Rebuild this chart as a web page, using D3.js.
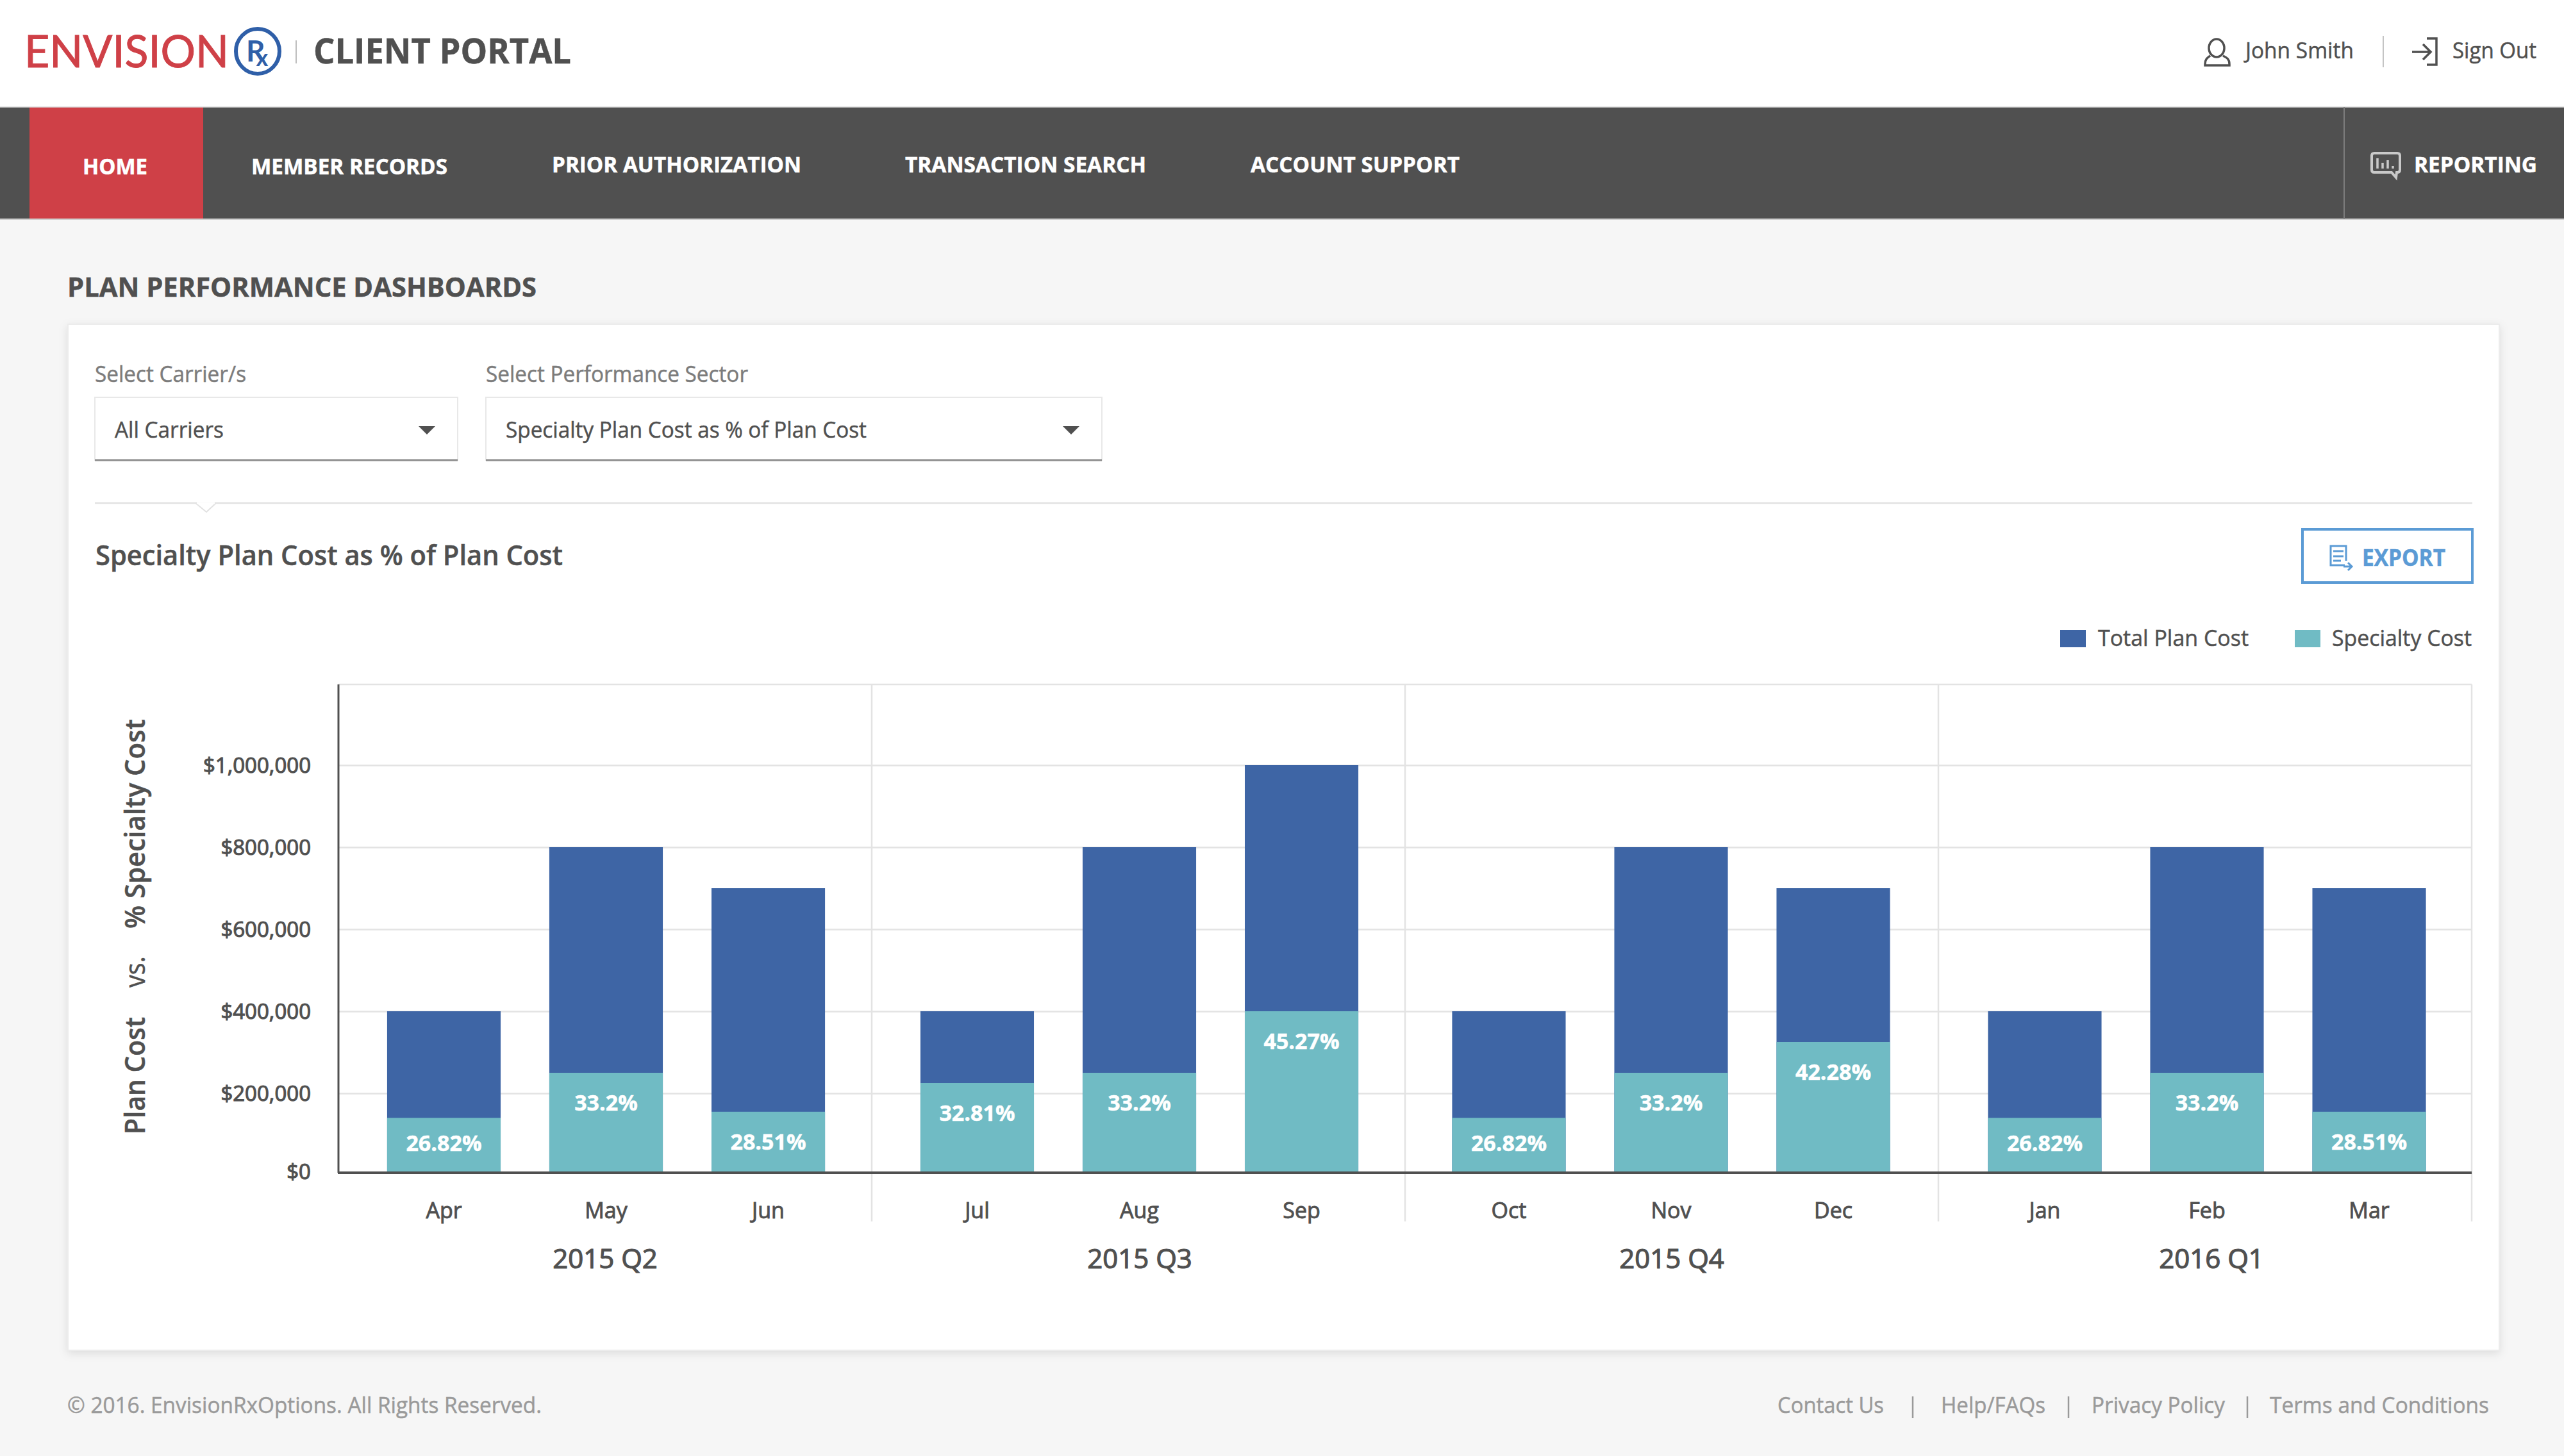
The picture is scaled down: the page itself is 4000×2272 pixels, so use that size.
<!DOCTYPE html>
<html>
<head>
<meta charset="utf-8">
<title>Plan Performance Dashboards</title>
<script src="https://cdn.jsdelivr.net/npm/d3@7"></script>
<style>
  html, body { margin: 0; padding: 0; background: #f6f6f6; }
  svg { display: block; }
  text { font-family: "Open Sans", sans-serif; }
  .card { filter: drop-shadow(0 4px 7px rgba(0,0,0,0.10)); }
</style>
</head>
<body>
<div id="chart"></div>
<script>
// chart values
const quarters = ["2015 Q2", "2015 Q3", "2015 Q4", "2016 Q1"]
const months = [["Apr", "May", "Jun"], ["Jul", "Aug", "Sep"], ["Oct", "Nov", "Dec"], ["Jan", "Feb", "Mar"]]
const totalPlanCost = [[400000, 800000, 700000], [400000, 800000, 1000000], [400000, 800000, 700000], [400000, 800000, 700000]]
const specialtyCost = [[140000, 250000, 155000], [225000, 250000, 400000], [140000, 250000, 325000], [140000, 250000, 155000]]
const specialtyPct = [["26.82%", "33.2%", "28.51%"], ["32.81%", "33.2%", "45.27%"], ["26.82%", "33.2%", "42.28%"], ["26.82%", "33.2%", "28.51%"]]
const yTicks = [0, 200000, 400000, 600000, 800000, 1000000]

const BLUE = "#3e65a5", TEAL = "#70bbc4", DARK = "#505050", GRID = "#e3e3e3", GREY = "#7c7c7c", FOOT = "#9a9a9a"

const svg = d3.select("#chart").append("svg")
    .attr("width", 4000)
    .attr("height", 2272)

// draws a line of text, width squeezes it to the measured size in the picture
// the thin stroke thickens the glyphs a little, the reference renders heavier
function label(parent, str, x, y, size, weight, fill, width) {
    const t = parent.append("text")
        .attr("x", x)
        .attr("y", y)
        .attr("font-size", size)
        .attr("font-weight", weight)
        .attr("fill", fill)
        .attr("stroke", fill)
        .attr("stroke-width", 0.5)
        .text(str)
    if (width) {
        t.attr("textLength", width).attr("lengthAdjust", "spacingAndGlyphs")
    }
    return t
}

function line(parent, x1, y1, x2, y2, color, w) {
    return parent.append("line")
        .attr("x1", x1).attr("y1", y1)
        .attr("x2", x2).attr("y2", y2)
        .attr("stroke", color)
        .attr("stroke-width", w)
}

// page
svg.append("rect").attr("width", 4000).attr("height", 2272).attr("fill", "#f6f6f6")

// header
const header = svg.append("g")
header.append("rect").attr("width", 4000).attr("height", 167).attr("fill", "#fff")
label(header, "ENVISION", 38, 105, 70, 400, "#cf4047", 319)
    .style("font-family", "Lato")
    .attr("stroke-width", 1)
header.append("ellipse")
    .attr("cx", 402).attr("cy", 80).attr("rx", 34).attr("ry", 35)
    .attr("fill", "none").attr("stroke", "#2f5fa8").attr("stroke-width", 6)
const rx = header.append("text")
    .attr("x", 384).attr("y", 96)
    .attr("fill", "#2f5fa8")
    .attr("font-weight", 700)
    .style("font-family", "Lato")
rx.append("tspan").attr("font-size", 46).text("R")
rx.append("tspan").attr("font-size", 36).attr("dx", -14).attr("dy", 7).text("x")
line(header, 462, 63, 462, 99, "#bdbdbd", 2)
label(header, "CLIENT PORTAL", 489, 99, 54, 700, DARK, 402)

label(header, "John Smith", 3503, 91, 35, 400, DARK, 169)
line(header, 3718, 56, 3718, 105, "#c4c4c4", 2)
label(header, "Sign Out", 3826, 91, 35, 400, DARK, 131)

// user icon
const userIcon = header.append("g").attr("fill", "none").attr("stroke", DARK).attr("stroke-width", 3.5)
userIcon.append("ellipse").attr("cx", 3458).attr("cy", 75).attr("rx", 12).attr("ry", 14)
userIcon.append("path").attr("d", "M3448,87 C3444,90 3440,92 3440,100 L3440,102 L3478,102 L3478,100 C3478,92 3474,90 3468,87")
// sign out icon
const signIcon = header.append("g").attr("fill", "none").attr("stroke", DARK).attr("stroke-width", 3.5)
signIcon.append("path").attr("d", "M3786,60 L3801,60 L3801,101 L3786,101")
signIcon.append("path").attr("d", "M3763,81 L3792,81 M3780,69 L3792,81 L3780,93")

// nav bar
const nav = svg.append("g")
nav.append("rect").attr("y", 167).attr("width", 4000).attr("height", 175).attr("fill", DARK)
nav.append("rect").attr("x", 46).attr("y", 167).attr("width", 271).attr("height", 175).attr("fill", "#cf4047")
line(nav, 0, 342, 4000, 342, "#d0d0d0", 2)
line(nav, 0, 167, 4000, 167, "#d8d8d8", 1.5)
line(nav, 3657, 167, 3657, 342, "#7d7d7d", 2)
label(nav, "HOME", 129, 272, 34, 700, "#fff", 101)
label(nav, "MEMBER RECORDS", 392, 272, 34, 700, "#fff", 306)
label(nav, "PRIOR AUTHORIZATION", 861, 269, 34, 700, "#fff", 389)
label(nav, "TRANSACTION SEARCH", 1412, 269, 34, 700, "#fff", 376)
label(nav, "ACCOUNT SUPPORT", 1951, 269, 34, 700, "#fff", 326)
label(nav, "REPORTING", 3766, 269, 34, 700, "#fff", 192)
// reporting icon
const repIcon = nav.append("g").attr("fill", "none").attr("stroke", "#c9c9c9")
repIcon.append("path")
    .attr("stroke-width", 4)
    .attr("d", "M3704,239 L3740,239 Q3744,239 3744,243 L3744,265 Q3744,269 3740,269 L3739,269 L3738,277 L3731,269 L3704,269 Q3700,269 3700,265 L3700,243 Q3700,239 3704,239 Z")
repIcon.append("path")
    .attr("stroke-width", 3.5)
    .attr("d", "M3709,247 L3709,263 M3717,254 L3717,263 M3725,250 L3725,263 M3733,259 L3733,263")

label(svg, "PLAN PERFORMANCE DASHBOARDS", 105, 463, 42, 700, DARK, 732)

// white card
const cardShadow = svg.append("g").attr("class", "card")
cardShadow.append("rect")
    .attr("x", 106).attr("y", 506)
    .attr("width", 3793).attr("height", 1601)
    .attr("fill", "#fff")
    .attr("stroke", "#ececec").attr("stroke-width", 2)

// selectors
label(svg, "Select Carrier/s", 148, 596, 35, 400, GREY, 236)
label(svg, "Select Performance Sector", 758, 596, 35, 400, GREY, 409)

function dropdown(x, w, str, textW) {
    const g = svg.append("g")
    g.append("rect").attr("x", x).attr("y", 620).attr("width", w).attr("height", 98)
        .attr("fill", "#fff").attr("stroke", "#e8e8e8").attr("stroke-width", 2)
    line(g, x, 718, x + w, 718, "#8f8f8f", 3)
    label(g, str, x + 31, 683, 35, 400, DARK, textW)
    const ax = x + w - 61
    g.append("path").attr("d", `M${ax},665 L${ax + 26},665 L${ax + 13},678 Z`).attr("fill", DARK)
}
dropdown(148, 566, "All Carriers", 170)
dropdown(758, 961, "Specialty Plan Cost as % of Plan Cost", 563)

// divider with the small notch
line(svg, 148, 785, 3857, 785, "#e2e2e2", 2.5)
svg.append("path").attr("d", "M305,785 L322,799 L337,785").attr("fill", "#fff").attr("stroke", "#e2e2e2").attr("stroke-width", 2)
line(svg, 307, 785, 335, 785, "#fff", 3)

label(svg, "Specialty Plan Cost as % of Plan Cost", 149, 882, 44, 600, DARK, 729)

// export button
const exportBtn = svg.append("g")
exportBtn.append("rect").attr("x", 3592).attr("y", 826).attr("width", 265).attr("height", 83)
    .attr("fill", "#fff").attr("stroke", "#5b9bd5").attr("stroke-width", 4)
label(exportBtn, "EXPORT", 3685, 883, 35, 700, "#5b9bd5", 130)
exportBtn.append("path").attr("fill", "none").attr("stroke", "#5b9bd5").attr("stroke-width", 3)
    .attr("d", "M3658,882 L3636,882 L3636,852 L3660,852 L3660,875 M3640,860 L3656,860 M3640,868 L3656,868 M3640,875 L3652,875 M3656,884 L3668,884 M3663,878 L3669,884 L3663,890")

// legend
const legend = svg.append("g")
legend.append("rect").attr("x", 3214).attr("y", 983).attr("width", 40).attr("height", 27).attr("fill", BLUE)
label(legend, "Total Plan Cost", 3273, 1008, 35, 400, DARK, 235)
legend.append("rect").attr("x", 3580).attr("y", 983).attr("width", 40).attr("height", 27).attr("fill", TEAL)
label(legend, "Specialty Cost", 3638, 1008, 35, 400, DARK, 218)

// chart
const plotLeft = 528, plotRight = 3856, plotTop = 1068, baseline = 1830, dividerBottom = 1906

const y = d3.scaleLinear()
    .domain([0, 1000000])
    .range([1834, 1194])

const x0 = d3.scaleBand()
    .domain(quarters)
    .range([plotLeft, plotRight])

const x1 = d3.scaleBand()
    .domain([0, 1, 2])
    .range([0, x0.bandwidth() + 3])
    .paddingInner(0.3)
    .paddingOuter(0.3)

// the last two quarters of bars sit slightly off their bands in the reference
const groupNudge = [0, 0, -2.5, 1.5]

// horizontal grid
const grid = svg.append("g")
    .attr("transform", `translate(${plotLeft},0)`)
    .call(d3.axisLeft(y).tickValues(yTicks.filter(d => d > 0)).tickSize(-(plotRight - plotLeft)).tickFormat(""))
grid.select(".domain").remove()
grid.selectAll("line").attr("stroke", GRID).attr("stroke-width", 2.5)

line(svg, plotLeft, plotTop, plotRight, plotTop, GRID, 2.5)
line(svg, plotRight, plotTop, plotRight, dividerBottom, GRID, 2.5)
quarters.slice(1).forEach(q => {
    line(svg, x0(q), plotTop, x0(q), dividerBottom, GRID, 2.5)
})

// axis text shares one look, the stroke stands in for a medium weight
function axisText(sel, size, weight, thick) {
    sel.selectAll("text")
        .attr("font-size", size)
        .attr("font-weight", weight)
        .attr("fill", DARK)
        .attr("stroke", DARK)
        .attr("stroke-width", thick)
        .style("font-family", "'Open Sans'")
}

// bars, one group per quarter
quarters.forEach((q, i) => {
    const g = svg.append("g").attr("transform", `translate(${x0(q) + groupNudge[i]},0)`)

    g.selectAll("rect.total")
        .data(totalPlanCost[i])
        .enter().append("rect")
            .attr("class", "total")
            .attr("x", (d, j) => x1(j))
            .attr("y", d => y(d))
            .attr("width", x1.bandwidth())
            .attr("height", d => y(0) - 2 - y(d))
            .attr("fill", BLUE)

    g.selectAll("rect.specialty")
        .data(specialtyCost[i])
        .enter().append("rect")
            .attr("class", "specialty")
            .attr("x", (d, j) => x1(j))
            .attr("y", d => y(d))
            .attr("width", x1.bandwidth())
            .attr("height", d => y(0) - 2 - y(d))
            .attr("fill", TEAL)

    g.selectAll("text.pct")
        .data(specialtyPct[i])
        .enter().append("text")
            .attr("class", "pct")
            .attr("x", (d, j) => x1(j) + x1.bandwidth() / 2)
            .attr("y", (d, j) => Math.min(y(specialtyCost[i][j]) + 47, 1784))
            .attr("dy", "0.36em")
            .attr("text-anchor", "middle")
            .attr("font-size", 34)
            .attr("font-weight", 700)
            .attr("fill", "#fff")
            .attr("stroke", "#fff")
            .attr("stroke-width", 0.5)
            .text(d => d)

    // month labels
    const monthScale = d3.scaleBand().domain(months[i]).range(x1.range()).paddingInner(0.3).paddingOuter(0.3)
    const monthAxis = g.append("g")
        .attr("transform", `translate(0,${baseline})`)
        .call(d3.axisBottom(monthScale).tickSize(0).tickPadding(47))
    monthAxis.select(".domain").remove()
    axisText(monthAxis, 34, 400, 0.9)
})

// quarter labels, the last one sits a little right of its band in the reference
const quarterAxis = svg.append("g")
    .attr("transform", `translate(0,${baseline})`)
    .call(d3.axisBottom(x0).tickSize(0).tickPadding(119))
quarterAxis.select(".domain").remove()
axisText(quarterAxis, 42, 400, 1.2)
quarterAxis.selectAll("text").attr("dx", d => d === "2016 Q1" ? 10 : d === "2015 Q3" ? 2 : 0)

// y axis
const yAxis = svg.append("g")
    .attr("transform", `translate(${plotLeft},0)`)
    .call(d3.axisLeft(y).tickValues(yTicks).tickSize(0).tickPadding(43).tickFormat(d => "$" + d3.format(",")(d)))
yAxis.select(".domain").remove()
axisText(yAxis, 33, 400, 1.1)
yAxis.selectAll("text").attr("dy", d => d === 0 ? "5px" : "0.36em")

// axis lines go over the bars
line(svg, plotLeft, plotTop, plotLeft, baseline, DARK, 3)
line(svg, plotLeft - 1, baseline, plotRight, baseline, DARK, 4)

// rotated y title
function rotated(str, yPos, weight, len) {
    label(svg, str, 0, 0, 44, weight, DARK, len)
        .attr("transform", `translate(226,${yPos}) rotate(-90)`)
}
rotated("Plan Cost", 1770, 600, 183)
rotated("vs.", 1541, 400, 49)
rotated("% Specialty Cost", 1449, 600, 327)

// footer
label(svg, "\u00a9 2016. EnvisionRxOptions. All Rights Reserved.", 105, 2205, 35, 400, FOOT, 740)
label(svg, "Contact Us", 2773, 2205, 35, 400, FOOT, 166)
label(svg, "Help/FAQs", 3028, 2205, 35, 400, FOOT, 163)
label(svg, "Privacy Policy", 3263, 2205, 35, 400, FOOT, 208)
label(svg, "Terms and Conditions", 3541, 2205, 35, 400, FOOT, 342)
const footerBars = [2984, 3227, 3506]
footerBars.forEach(fx => line(svg, fx, 2179, fx, 2213, FOOT, 2.5))
</script>
</body>
</html>
